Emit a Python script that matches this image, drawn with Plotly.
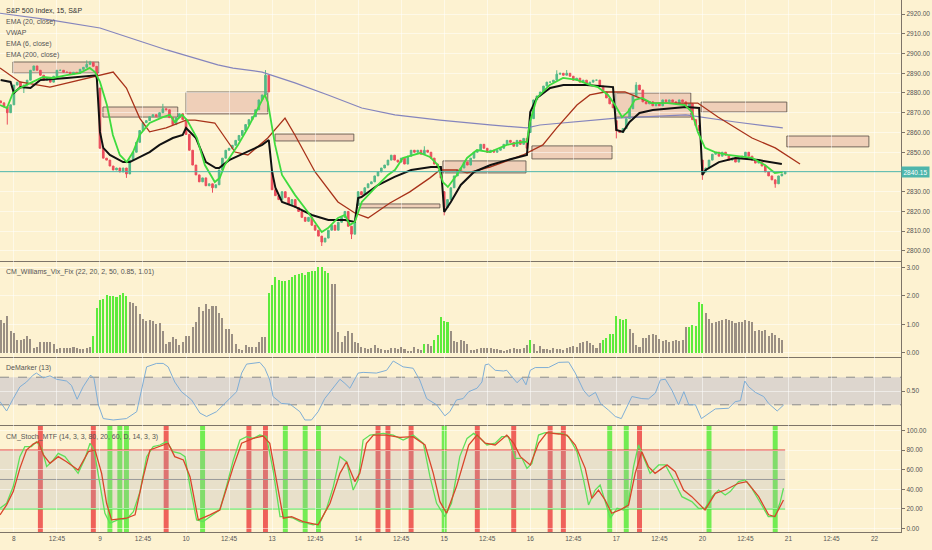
"""
S&P 500 Index, 15 min - TradingView style chart with EMA / VWAP overlays,
supply-demand zones and three indicator panes (Vix Fix, DeMarker, Stoch MTF).

Values read off a screenshot. x is the 15-minute bar number counted from the
open of Monday the 8th (26 bars per session).

Outputs: out.html
"""

import plotly.graph_objects as go
from plotly.subplots import make_subplots

# ── Session / axis layout ─────────────────────────────────────────
BARS_PER_DAY = 26
FIRST_BAR = -4
DAY_LABELS = ["8", "9", "10", "13", "14", "15", "16", "17", "20", "21", "22"]
MID_LABEL = "12:45"
X_RANGE = [-4.2, 268]

# 2840 is hidden behind the last-price badge
PRICE_TICKS = [2800, 2810, 2820, 2830, 2850, 2860, 2870, 2880, 2890, 2900, 2910, 2920]
VIX_TICKS = [0, 1, 2, 3]
DEM_TICKS = [0.5]
STOCH_TICKS = [0, 20, 40, 60, 80, 100]
LAST_PRICE = 2840.15

# ── Candles (closes per bar, opens follow previous close) ─────────
FIRST_OPEN = 2876
CLOSES = [
    2875, 2873, 2870, 2874,
    # 8
    2884, 2885.5, 2882.5, 2884, 2886.5, 2891.5, 2893.7, 2891.5, 2889, 2886.5,
    2887.5, 2885.5, 2888.5, 2891.5, 2891.5, 2890.5, 2890.5, 2889.5, 2890.5, 2890,
    2892, 2893, 2894.5, 2895.5, 2893.5, 2887.5,
    # 9
    2852, 2847, 2846, 2843, 2841, 2842, 2840, 2842, 2839, 2846,
    2850, 2855, 2861, 2865, 2866, 2868, 2869, 2868, 2870, 2872,
    2871.5, 2867.5, 2864, 2867.5, 2869.5, 2866.5,
    # 10
    2859, 2851, 2843.5, 2838.5, 2835, 2837, 2833, 2834, 2832, 2833.5,
    2841, 2847, 2851, 2852, 2853.5, 2856, 2858.5, 2861, 2864, 2866.5,
    2868, 2871.5, 2876.5, 2879, 2889, 2880.5,
    # 13
    2831, 2828, 2826, 2830, 2827, 2823.5, 2826, 2822, 2820, 2817,
    2815, 2817, 2813, 2810.5, 2807.5, 2804.5, 2806.5, 2810.5, 2813, 2810.5,
    2814.5, 2817, 2820, 2812.5, 2808.5, 2814.5,
    # 14
    2830, 2828.5, 2832, 2834, 2835, 2838, 2840, 2842, 2843.5, 2846,
    2848.5, 2846, 2845, 2847, 2844, 2848, 2851, 2850, 2851, 2849,
    2851, 2850, 2847, 2844, 2842, 2837,
    # 15
    2822, 2826, 2832, 2838, 2841, 2842, 2845, 2843.5, 2847, 2850,
    2851, 2854, 2852, 2850, 2851, 2850, 2851, 2852, 2854, 2856,
    2855, 2853, 2856, 2854, 2857, 2852,
    # 16
    2867, 2876.5, 2878.5, 2880.5, 2883.5, 2885.5, 2885.5, 2886.5, 2889.5, 2890,
    2889, 2890, 2888.5, 2886.5, 2887.5, 2885.5, 2886.5, 2884.5, 2885.5, 2886.5,
    2886.5, 2883.5, 2880.5, 2877.5, 2874.5, 2872.5,
    # 17
    2861, 2860, 2862, 2867, 2872, 2878.5, 2884, 2881.5, 2875.5, 2874.5,
    2875.5, 2873.5, 2874.5, 2873.5, 2876.5, 2875.5, 2876.5, 2875.5, 2874.5, 2876.5,
    2875.5, 2873.5, 2874.5, 2866.5, 2863.5, 2861,
    # 20
    2840, 2842, 2846, 2849, 2850, 2848, 2850, 2848.5, 2846, 2847,
    2845, 2847, 2848, 2850, 2848, 2846, 2844.5, 2845, 2843, 2840,
    2838, 2836, 2834, 2838, 2839, 2840.15,
]
# session opens that gapped away from the previous close
GAP_OPENS = {26: 2882.5, 78: 2840, 104: 2823, 130: 2830, 156: 2860, 182: 2866, 208: 2846}
HIGH_WICKS = {22: 2896.5, 23: 2896.3, 45: 2874.5, 76: 2891.6, 124: 2853,
              164: 2891.5, 167: 2891.6, 188: 2885.5}
LOW_WICKS = {-2: 2864, 3: 2880, 34: 2837, 60: 2829.5, 93: 2802.5, 102: 2806,
             130: 2818, 182: 2857, 208: 2836, 230: 2832}

# ── Overlay lines (bar, price) ────────────────────────────────────
EMA6_X = [-4.2, -2.1, -0.3, 1.8, 5.7, 8.8, 11.8, 16, 19.9, 22.9, 24.5, 26, 28.1, 29.9, 32,
          34.1, 36, 38, 41, 45, 47.1, 48.6, 50.8, 52.3, 55.3, 57.7, 60.7, 62.2, 63.7, 67.7,
          70.7, 73.7, 75.8, 76.7, 78.9, 81, 84.9, 88.8, 93, 94.9, 97.9, 100, 101.5, 103,
          105.1, 109.1, 113, 115.1, 117.5, 122.7, 125.7, 128.1, 129.6, 131.1, 133.8, 136.9,
          139.9, 143.8, 148.9, 153.8, 155, 155.9, 158, 161.9, 165.9, 170.1, 174, 176.4,
          179.5, 181.6, 183.7, 185.5, 187.6, 189.7, 192.7, 197.6, 202.7, 204.8, 206.6,
          208.8, 211.8, 215.7, 219.9, 223, 226.9, 229.9, 232.3]
EMA6_Y = [2873.9, 2872.4, 2880, 2882.5, 2885.6, 2888.1, 2887.6, 2889.1, 2890.1, 2892.7,
          2890.6, 2885.6, 2873.9, 2858.7, 2848.6, 2845, 2850.1, 2858.7, 2864.8, 2867.8,
          2868.9, 2865.3, 2868.9, 2866.3, 2857.2, 2843.5, 2834.9, 2837, 2843.5, 2853.7,
          2862.3, 2872.4, 2879, 2875.4, 2853.7, 2838.5, 2828.4, 2819.7, 2809.6, 2811.6,
          2816.7, 2818.2, 2813.2, 2814.7, 2824.8, 2831.9, 2838.5, 2841, 2847.1, 2849.6,
          2847.6, 2843.5, 2834.9, 2832.4, 2838.5, 2847.1, 2851.1, 2850.1, 2853.7, 2855.2,
          2855.2, 2865.3, 2877.5, 2884.1, 2887.6, 2886.6, 2884.1, 2883, 2879, 2873.9,
          2867.8, 2870.4, 2876.5, 2877.5, 2874.9, 2874.9, 2873.9, 2870.4, 2860.3, 2852.2,
          2850.1, 2848.6, 2847.6, 2847.1, 2843.5, 2839.5, 2840]

EMA20_X = [-4.2, 1.8, 10.9, 23, 26, 30, 34, 38, 41, 46, 52, 54.7, 60.7, 66.8, 70.7, 76.7,
           81.9, 84.9, 91, 97.9, 103, 107, 113.6, 119.6, 125.7, 128.7, 133.8, 136.9, 143.8,
           153.8, 159.8, 164, 170.1, 174, 178.5, 184.6, 189, 192.7, 206.6, 212.7, 223, 230,
           237.5]
EMA20_Y = [2892.7, 2885.6, 2883, 2887.6, 2889, 2890.6, 2882.5, 2867.3, 2860.3, 2862.3,
           2866.3, 2866.3, 2864.8, 2850.1, 2848.6, 2857.2, 2867.3, 2858.7, 2840, 2824.8,
           2819.2, 2816.7, 2824.3, 2829.9, 2837, 2841, 2841, 2839.5, 2842.5, 2848.6,
           2853.7, 2862.3, 2873.9, 2879, 2880.5, 2880.5, 2877.5, 2874.9, 2874.9, 2867.8,
           2857.2, 2852.2, 2844]

EMA200_X = [-4.2, 10.9, 26, 46.2, 61.6, 66.2, 75, 84.9, 94.9, 105.1, 115.1, 128.7, 143.8,
            155, 158.9, 174, 182, 203, 218, 232.3]
EMA200_Y = [2920.4, 2917, 2912.9, 2901.8, 2894.2, 2892.6, 2890.6, 2885.1, 2879, 2872.4,
            2868.9, 2866.3, 2863.8, 2862.3, 2863.8, 2866.3, 2867.3, 2868.9, 2865.3, 2862.3]

VWAP_X = [-4, -1, 0, 2, 5, 8, 16, 25, 26, 27, 29, 33, 35, 38, 41, 44, 48, 51, 52, 55, 58,
          61, 62, 65, 70, 75, 77, 78, 79, 81, 85, 90, 95, 100, 103, 104, 105, 110, 115, 120,
          126, 129, 130, 132, 135, 139, 144, 149, 155, 156, 158, 162, 166, 173, 181, 182,
          184, 186, 189, 193, 203, 207, 208, 209, 213, 218, 225, 232]
VWAP_Y = [2886.6, 2885.6, 2880, 2883, 2882.5, 2886.6, 2887.6, 2889, 2860.3, 2852.2, 2848.6,
          2845, 2845, 2847.6, 2850.1, 2853.7, 2857.2, 2858.7, 2862.3, 2857.2, 2845, 2842,
          2842, 2846, 2850, 2853.7, 2856.2, 2840, 2832, 2824.8, 2822.3, 2818.2, 2815.7,
          2815.7, 2814.7, 2826.8, 2827.3, 2833.4, 2837.5, 2841, 2842.5, 2842.5, 2819.7,
          2824.8, 2833.4, 2840, 2843.5, 2846, 2848.6, 2870.4, 2877.5, 2882.5, 2884, 2884,
          2883, 2861.3, 2860.3, 2865.3, 2869.9, 2871.4, 2872.9, 2872.4, 2838.5, 2841, 2845,
          2847.1, 2846, 2844]

# supply / demand boxes: (bar from, bar to, price low, price high)
ZONES = [
    (-0.3, 25.7, 2890.1, 2895.7),
    (26.9, 49.5, 2867.8, 2872.9),
    (52, 76.7, 2869.4, 2880.5),
    (78.9, 102.7, 2855.7, 2859.2),
    (103.6, 128.7, 2821.8, 2823.8),
    (129.6, 154.7, 2839.5, 2845.6),
    (156.5, 180.7, 2846.6, 2853.2),
    (181.9, 204.5, 2867.8, 2880),
    (207.6, 233.5, 2870.4, 2875.4),
    (233.5, 258.3, 2852.7, 2858.2),
]

# ── CM_Williams_Vix_Fix histogram (one value per bar) ─────────────
VIX = [
    1.16, 1.04, 1.30, 0.77, 0.69, 0.45, 0.45, 0.49, 0.59, 0.47,
    0.18, 0.21, 0.39, 0.39, 0.39, 0.37, 0.30, 0.13, 0.15, 0.15,
    0.18, 0.18, 0.21, 0.18, 0.13, 0.12, 0.15, 0.21, 0.60, 1.58,
    1.84, 1.90, 2.03, 2.00, 1.98, 1.96, 2.03, 2.09, 1.99, 1.79,
    1.73, 1.64, 1.36, 1.17, 1.13, 1.16, 1.13, 1.01, 1.04, 0.75,
    0.30, 0.37, 0.55, 0.49, 0.27, 0.37, 0.60, 0.60, 0.89, 1.07,
    1.60, 1.46, 1.72, 1.54, 1.64, 1.64, 1.40, 1.22, 0.84, 0.84,
    0.66, 0.31, 0.13, 0.09, 0.27, 0.19, 0.20, 0.20, 0.39, 0.55,
    0.55, 2.08, 2.38, 2.65, 2.55, 2.53, 2.53, 2.55, 2.67, 2.72,
    2.76, 2.79, 2.74, 2.82, 2.86, 2.88, 3.02, 3.00, 2.86, 2.79,
    2.43, 2.43, 0.72, 0.37, 0.57, 0.77, 0.68, 0.37, 0.33, 0.21,
    0.18, 0.13, 0.18, 0.27, 0.18, 0.13, 0.09, 0.09, 0.15, 0.18,
    0.13, 0.21, 0.13, 0.04, 0.04, 0.21, 0.12, 0.09, 0.30, 0.30,
    0.25, 0.45, 0.63, 1.26, 1.13, 1.08, 0.77, 0.42, 0.39, 0.43,
    0.42, 0.30, 0.09, 0.09, 0.12, 0.15, 0.15, 0.18, 0.15, 0.13,
    0.12, 0.09, 0.07, 0.09, 0.12, 0.15, 0.13, 0.13, 0.18, 0.27,
    0.45, 0.30, 0.04, 0.25, 0.13, 0.12, 0.09, 0.18, 0.13, 0.12,
    0.09, 0.15, 0.21, 0.25, 0.21, 0.33, 0.37, 0.42, 0.33, 0.27,
    0.18, 0.33, 0.45, 0.51, 0.65, 0.65, 1.28, 1.20, 1.16, 1.19,
    0.84, 0.69, 0.27, 0.21, 0.53, 0.53, 0.63, 0.66, 0.63, 0.47,
    0.42, 0.44, 0.37, 0.42, 0.44, 0.42, 0.44, 0.89, 0.92, 0.98,
    0.95, 1.79, 1.70, 1.40, 1.19, 1.04, 1.08, 1.10, 1.15, 1.20,
    1.16, 1.13, 1.04, 1.08, 1.08, 1.16, 1.13, 1.08, 0.77, 0.81,
    0.75, 0.81, 0.59, 0.69, 0.63, 0.51, 0.45,
]
VIX_GREEN = [(24, 34), (77, 95), (124, 124), (127, 131), (156, 156), (178, 185), (204, 208)]

# ── DeMarker (13) ─────────────────────────────────────────────────
DEM_X = [-4.2, -2.2, -0.2, 1.8, 3.8, 5.8, 6.8, 8.9, 10.9, 12.9,
         15.9, 17.4, 19.1, 20.9, 23.2, 24.2, 25.5, 27, 30, 34,
         37.1, 38.6, 40.1, 43.1, 45.1, 46.6, 48.6, 50.6, 53.7, 56.2,
         58.2, 61.2, 64.2, 67.3, 68.8, 70.3, 74.3, 75.8, 77.3, 78.3,
         80.8, 83.4, 86.4, 87.9, 89.9, 91.9, 93.9, 95.5, 98.5, 100,
         101.5, 104, 105.5, 109.5, 112.6, 114.6, 117.6, 120.6, 122.6, 124.7,
         127.7, 130.2, 131.7, 133.7, 135.7, 137.4, 139.9, 141.4, 142.4, 143.4,
         145.4, 147.9, 148.9, 150.4, 152, 153.5, 154.7, 156, 157.5, 161.5,
         164.6, 167.6, 169.6, 172.1, 173.7, 175.7, 177.2, 179.7, 181.7, 183.5,
         185.2, 186.7, 189.7, 191.7, 193.8, 195.3, 196.8, 198.8, 200.8, 202.4,
         203.9, 205.9, 207.7, 209.9, 211.9, 215.9, 217.9, 219.5, 220.8, 222,
         224, 226.5, 228, 230.6, 232.6]
DEM_Y = [0.345, 0.21, 0.39, 0.56, 0.63, 0.73, 0.76, 0.69, 0.72, 0.67,
         0.645, 0.58, 0.38, 0.56, 0.73, 0.68, 0.30, 0.10, 0.08, 0.10,
         0.20, 0.54, 0.85, 0.90, 0.90, 0.85, 0.63, 0.49, 0.37, 0.18,
         0.13, 0.20, 0.345, 0.49, 0.76, 0.89, 0.915, 0.83, 0.66, 0.42,
         0.32, 0.31, 0.20, 0.08, 0.08, 0.20, 0.39, 0.49, 0.67, 0.61,
         0.54, 0.76, 0.77, 0.76, 0.80, 0.935, 0.85, 0.83, 0.66, 0.39,
         0.30, 0.14, 0.20, 0.37, 0.39, 0.49, 0.54, 0.63, 0.88, 0.89,
         0.80, 0.79, 0.80, 0.71, 0.62, 0.69, 0.59, 0.80, 0.84, 0.84,
         0.915, 0.92, 0.76, 0.51, 0.42, 0.48, 0.32, 0.22, 0.13, 0.10,
         0.27, 0.42, 0.39, 0.385, 0.47, 0.66, 0.67, 0.51, 0.30, 0.49,
         0.30, 0.30, 0.10, 0.18, 0.24, 0.25, 0.345, 0.36, 0.645, 0.56,
         0.48, 0.42, 0.32, 0.21, 0.30]

# ── CM_Stoch_MTF ──────────────────────────────────────────────────
K_X = [-4.2, -2.2, -0.2, 1.8, 3.3, 5.3, 6.8, 8.4, 9.9, 11.9,
       13.4, 15.4, 17.4, 19.4, 21.5, 23, 24.2, 26, 27.5, 29,
       32, 34, 36.1, 38.1, 40.1, 42.1, 44.1, 46.1, 48.1, 50.2,
       51.7, 53.2, 55.2, 57.2, 59.2, 62.2, 64.2, 66.3, 68.3, 70.3,
       72.3, 74.3, 76.3, 78.3, 80.4, 82.4, 84.4, 86.4, 90.4, 92.4,
       94.5, 96.5, 98.5, 100.5, 102.5, 104, 105.5, 107.6, 111.6, 114.6,
       117.6, 120.6, 123.7, 125.7, 127.7, 130.2, 132.2, 134.7, 136.9, 138.9,
       140.9, 142.9, 145.4, 147.4, 149.4, 151.5, 153.5, 155, 156.5, 158.5,
       160.5, 162.5, 165.6, 167.6, 170.1, 172.1, 173.6, 175.6, 177.1, 178.7,
       180.2, 182.2, 184.2, 185.7, 187.2, 188.7, 190.2, 192.2, 194.8, 196.8,
       199.3, 201.8, 204.8, 206.8, 208.8, 210.9, 212.9, 214.9, 216.4, 218.9,
       220.9, 222.9, 225.9, 227.9, 229.9, 231.4, 232.5]
K_Y = [20.5, 25.6, 42.7, 73.4, 83.6, 83.6, 88.7, 81.9, 63.2, 70,
       76.8, 73.4, 64.9, 56.3, 71.7, 87.1, 80.2, 42.7, 15.4, 5.2,
       9.3, 9.3, 17.1, 37.6, 73.4, 83.6, 85.3, 88.7, 78.5, 76.8,
       73.4, 42.7, 8.6, 6.9, 12, 18.8, 42.7, 70, 90.4, 93.8,
       92.1, 95.5, 93.8, 59.7, 12, 12, 10.3, 6.9, 3.5, 5.2,
       20.5, 42.7, 73.4, 68.2, 39.2, 49.5, 90.4, 95.5, 97.2, 95.5,
       90.4, 95.5, 87.1, 52.9, 25.6, 12, 25.6, 73.4, 92.1, 97.2,
       92.1, 85.3, 87.1, 93.8, 93.8, 71.7, 71.7, 61.4, 66.5, 95.5,
       97.9, 97.2, 97.2, 93.8, 78.5, 49.5, 23.9, 39.2, 44.4, 25.6,
       10.3, 20.5, 18.8, 27.3, 63.2, 85.3, 73.4, 56.3, 64.9, 64.9,
       49.5, 32.4, 27.3, 20.5, 20.5, 32.4, 39.2, 34.1, 37.6, 47.8,
       49.5, 41, 23.9, 12, 12, 25.6, 41]
D_X = [-4.2, -2.2, -0.2, 1.8, 3.8, 5.8, 7.4, 8.9, 10.9, 13.4,
       15.9, 19.4, 22.5, 24.5, 26.5, 28, 29.5, 34, 36.6, 39.1,
       41.1, 44.1, 46.6, 48.6, 51.2, 53.2, 55.7, 59.2, 62.2, 66.3,
       68.8, 72.3, 75.3, 77.3, 79.4, 81.4, 83.9, 87.4, 91.9, 95.5,
       98.5, 100.5, 103, 104.5, 106.5, 108.6, 112.6, 116.6, 120.6, 124.2,
       126.7, 128.7, 130.7, 133.7, 137.4, 139.9, 142.4, 145.4, 148.9, 151,
       153, 156, 158.5, 161, 164.6, 167.1, 169.6, 172.6, 174.6, 176.6,
       178.6, 180.6, 183.1, 185.7, 187.7, 189.7, 191.7, 193.7, 197.3, 199.8,
       202.3, 204.8, 208.8, 211.9, 214.9, 218.9, 221.4, 225, 228, 229.9,
       232.5]
D_Y = [13.8, 24, 37.6, 61.4, 80.1, 86.3, 88.7, 75.1, 66.5, 73.4,
       68.2, 59.7, 78.5, 80.2, 56.3, 25.6, 8.6, 10.3, 13.8, 52.9,
       80.2, 83.6, 87.1, 73.4, 70, 52.9, 8.6, 13.8, 18.8, 63.2,
       87.1, 92.1, 94.5, 87.1, 49.5, 10.3, 12, 6.9, 3.5, 25.6,
       56.3, 68.2, 47.8, 56.3, 87.1, 95.5, 95.5, 93.1, 93.8, 85.3,
       56.3, 27.3, 15.4, 42.7, 85.3, 95.5, 87.1, 85.3, 95.5, 87.1,
       73.4, 64.9, 87.1, 97.9, 96.6, 95.5, 85.3, 61.4, 30.7, 39.2,
       29, 15.4, 18.8, 23.9, 56.3, 78.5, 63.2, 56.3, 64.9, 58,
       39.2, 32.4, 18.8, 35.8, 39.2, 46.1, 47.8, 32.4, 13.8, 12,
       29]
STOCH_RED_BARS = [8, 24, 46, 71, 76, 110, 113, 120, 140, 151, 162, 166, 189]
STOCH_GREEN_BARS = [29, 32, 34, 57, 82, 88, 92, 130, 180, 185, 210, 230]

# ── Colours ───────────────────────────────────────────────────────
BG = "#FDF2D1"
GRID = "rgba(255,255,255,0.5)"
SEP = "#7D7468"
UP = "#53B987"
DOWN = "#EB4D5C"
TEAL = "#4DB6AC"
FONT = "Liberation Sans, Arial, sans-serif"


def main():
    n_bars = len(CLOSES)
    bars = list(range(FIRST_BAR, FIRST_BAR + n_bars))
    last_bar = bars[-1]

    opens, highs, lows = [], [], []
    prev = FIRST_OPEN
    for i, c in zip(bars, CLOSES):
        o = GAP_OPENS.get(i, prev)
        opens.append(o)
        highs.append(max(o, c, HIGH_WICKS.get(i, c)))
        lows.append(min(o, c, LOW_WICKS.get(i, c)))
        prev = c

    fig = make_subplots(rows=4, cols=1, shared_xaxes=True, vertical_spacing=0,
                        row_heights=[261, 96, 68, 107])

    # ── Price pane ───────────────────────────────────────────────
    for x0, x1, p0, p1 in ZONES:
        fig.add_shape(type="rect", x0=x0, x1=x1, y0=p0, y1=p1, layer="below",
                      fillcolor="rgba(220,160,150,0.42)",
                      line=dict(color="rgba(95,85,75,0.85)", width=1), row=1, col=1)

    fig.add_trace(go.Candlestick(
        x=bars, open=opens, high=highs, low=lows, close=CLOSES,
        increasing=dict(line=dict(color=UP, width=1), fillcolor=UP),
        decreasing=dict(line=dict(color=DOWN, width=1), fillcolor=DOWN),
        whiskerwidth=0, hoverinfo="skip",
    ), row=1, col=1)

    fig.add_hline(y=LAST_PRICE, line=dict(color=TEAL, width=1), row=1, col=1,
                  exclude_empty_subplots=False)

    lines = [
        (EMA200_X, EMA200_Y, "#8585BD", 1.2),
        (EMA20_X, EMA20_Y, "#A8321A", 1.3),
        (VWAP_X, VWAP_Y, "#111111", 2),
        (EMA6_X, EMA6_Y, "#3EDB3E", 1.8),
    ]
    for xs, ys, color, width in lines:
        fig.add_trace(go.Scatter(x=xs, y=ys, mode="lines", hoverinfo="skip",
                                 line=dict(color=color, width=width)), row=1, col=1)

    # ── Vix Fix pane ─────────────────────────────────────────────
    vix_x = bars[:len(VIX)]
    vix_colors = ["#5CEB3C" if any(a <= i <= b for a, b in VIX_GREEN) else "#9A8F83"
                  for i in vix_x]
    fig.add_trace(go.Bar(x=vix_x, y=VIX, width=0.62, marker=dict(color=vix_colors, line_width=0),
                         hoverinfo="skip"), row=2, col=1)

    # ── DeMarker pane ────────────────────────────────────────────
    fig.add_trace(go.Scatter(x=DEM_X, y=DEM_Y, mode="lines", hoverinfo="skip",
                             line=dict(color="#7FAED6", width=1)), row=3, col=1)
    fig.add_hrect(y0=0.3, y1=0.7, fillcolor="rgba(150,150,200,0.3)", line_width=0,
                  layer="below", row=3, col=1, exclude_empty_subplots=False)
    for lvl in (0.3, 0.7):
        fig.add_hline(y=lvl, line=dict(color="#8C8C8C", width=1, dash="dash"), layer="below",
                      row=3, col=1, exclude_empty_subplots=False)

    # ── Stoch pane ───────────────────────────────────────────────
    fig.add_trace(go.Scatter(x=K_X, y=K_Y, mode="lines", hoverinfo="skip",
                             line=dict(color="#5FE05A", width=1.3)), row=4, col=1)
    fig.add_trace(go.Scatter(x=D_X, y=D_Y, mode="lines", hoverinfo="skip",
                             line=dict(color="#D9452B", width=1.3)), row=4, col=1)
    fig.add_shape(type="rect", x0=X_RANGE[0], x1=last_bar, y0=20, y1=80, layer="below",
                  fillcolor="rgba(170,170,185,0.25)", line_width=0, row=4, col=1)
    for b in STOCH_RED_BARS:
        fig.add_vrect(x0=b - 0.75, x1=b + 0.75, fillcolor="rgba(235,60,60,0.8)",
                      line_width=0, layer="below", row=4, col=1, exclude_empty_subplots=False)
    for b in STOCH_GREEN_BARS:
        fig.add_vrect(x0=b - 0.75, x1=b + 0.75, fillcolor="rgba(90,235,60,0.85)",
                      line_width=0, layer="below", row=4, col=1, exclude_empty_subplots=False)
    for lvl, color, width in ((80, "#E0453A", 1.4), (50, "#9A9A9A", 1), (20, "#45DB45", 1.4)):
        fig.add_shape(type="line", x0=X_RANGE[0], x1=last_bar, y0=lvl, y1=lvl, layer="below",
                      line=dict(color=color, width=width), row=4, col=1)

    # ── Axes ─────────────────────────────────────────────────────
    tickvals, ticktext = [], []
    for k, lab in enumerate(DAY_LABELS):
        tickvals += [k * BARS_PER_DAY, k * BARS_PER_DAY + 13]
        ticktext += [lab, MID_LABEL]

    fig.update_xaxes(range=X_RANGE, tickvals=tickvals, ticktext=ticktext,
                     showgrid=True, gridcolor=GRID, gridwidth=1, zeroline=False,
                     showline=True, linecolor=SEP, linewidth=1.3, ticks="",
                     rangeslider_visible=False,
                     tickfont=dict(size=6.5, color="#555", family=FONT))
    fig.update_yaxes(side="right", showgrid=True, gridcolor=GRID, zeroline=False,
                     showline=True, linecolor=SEP, linewidth=1.3,
                     ticks="outside", ticklen=3, tickcolor=SEP, tickformat=".2f",
                     tickfont=dict(size=6.5, color="#555", family=FONT))
    fig.update_yaxes(range=[2794.9, 2927.1], tickvals=PRICE_TICKS, row=1, col=1)
    fig.update_yaxes(range=[-0.15, 3.22], tickvals=VIX_TICKS, row=2, col=1)
    fig.update_yaxes(range=[0.007, 0.993], tickvals=DEM_TICKS, row=3, col=1)
    fig.update_yaxes(range=[-3.8, 105.8], tickvals=STOCH_TICKS, row=4, col=1)

    # ── Labels ───────────────────────────────────────────────────
    labels = [
        ("S&P 500 Index, 15, S&P", 11, "#333"),
        ("EMA (20, close)", 22, "#555"),
        ("VWAP", 33, "#555"),
        ("EMA (6, close)", 44, "#555"),
        ("EMA (200, close)", 55, "#555"),
        ("CM_Williams_Vix_Fix (22, 20, 2, 50, 0.85, 1.01)", 272, "#555"),
        ("DeMarker (13)", 368, "#555"),
        ("CM_Stoch_MTF (14, 3, 3, 80, 20, 60, D, 14, 3, 3)", 437, "#555"),
    ]
    for text, py, color in labels:
        fig.add_annotation(text=text, xref="paper", yref="paper", x=4 / 901, y=1 - py / 532,
                           xanchor="left", yanchor="middle", showarrow=False,
                           font=dict(size=7, color=color, family=FONT))

    fig.add_annotation(text=f"{LAST_PRICE:.2f}", xref="paper", yref="y", x=1.0, y=LAST_PRICE,
                       xanchor="left", yanchor="middle", showarrow=False, bgcolor=TEAL,
                       borderpad=1.5, font=dict(size=6.5, color="white", family=FONT))

    fig.update_layout(
        width=932, height=550,
        margin=dict(l=0, r=31, t=0, b=18),
        paper_bgcolor=BG, plot_bgcolor=BG,
        showlegend=False, bargap=0,
        font=dict(family=FONT, size=7, color="#555"),
    )

    # the page's default 8px body margin would push the figure off the window
    fig.write_html("out.html", config={"displayModeBar": False},
                   post_script="document.body.style.margin='0';")


if __name__ == "__main__":
    main()
